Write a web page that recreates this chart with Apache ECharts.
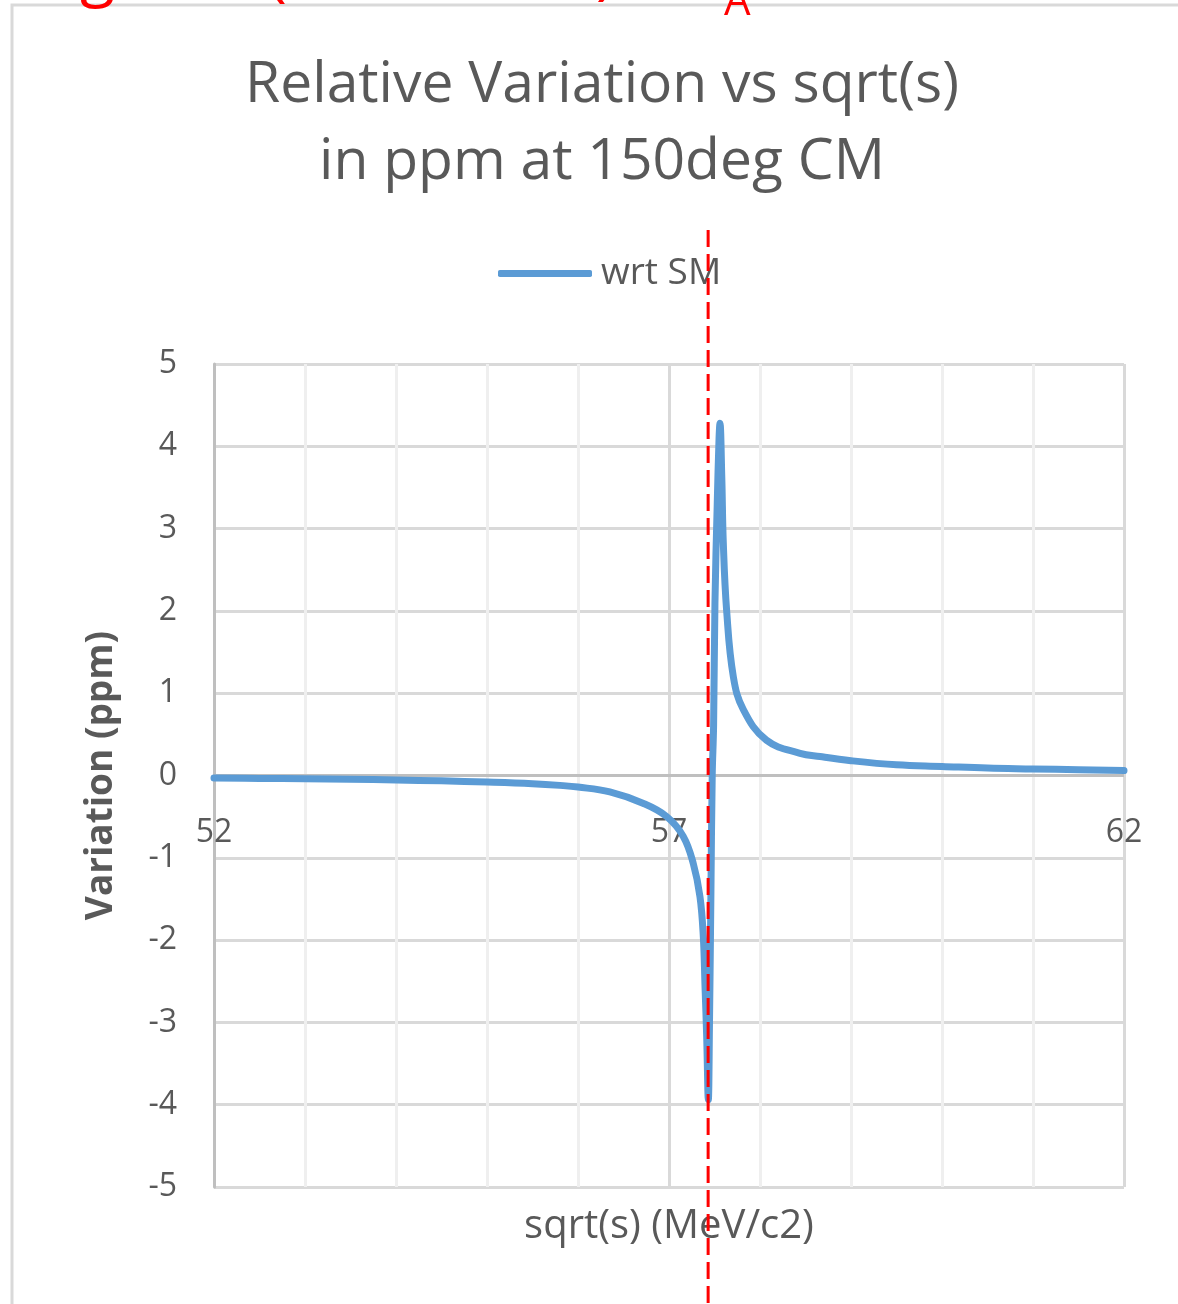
<!DOCTYPE html>
<html>
<head>
<meta charset="utf-8">
<script src="https://cdn.jsdelivr.net/npm/echarts@6/dist/echarts.min.js"></script>
<style>
html,body{margin:0;padding:0;background:#fff;}
#c{width:1178px;height:1304px;}
</style>
</head>
<body>
<div id="c"></div>
<script>
const titleText = 'Relative Variation vs sqrt(s)\nin ppm at 150deg CM';
const seriesName = 'wrt SM';
const xAxisName = 'sqrt(s) (MeV/c2)';
const yAxisName = 'Variation (ppm)';
const xLabeled = [52, 57, 62];
const sqrtS = [52, 52.5, 53, 53.5, 54, 54.5, 55, 55.5, 55.8, 56.0, 56.35, 56.72, 56.975, 57.157, 57.267, 57.34, 57.377, 57.396, 57.414, 57.432, 57.445, 57.46, 57.475, 57.49, 57.505, 57.53, 57.55, 57.56, 57.58, 57.597, 57.633, 57.707, 57.817, 58.07, 58.44, 58.66, 59, 59.5, 60, 60.5, 61, 61.5, 62];
const variation = [-0.03, -0.035, -0.04, -0.045, -0.055, -0.065, -0.08, -0.1, -0.12, -0.14, -0.2, -0.34, -0.5, -0.74, -1.07, -1.47, -1.96, -2.57, -3.17, -3.94, -3.0, -1.5, 0.0, 0.6, 2.1, 3.3, 4.1, 4.28, 3.63, 2.82, 2.01, 1.2, 0.8, 0.43, 0.27, 0.23, 0.18, 0.13, 0.11, 0.09, 0.08, 0.07, 0.06];
const zeroLineX = [52, 62];
const zeroLineY = [0, 0];
const markerX = 57.43;

const FONT = 'Open Sans';
const GREY = '#595959';

const chart = echarts.init(document.getElementById('c'));
const data = sqrtS.map((x, i) => [x, variation[i]]);
const zeroData = zeroLineX.map((x, i) => [x, zeroLineY[i]]);

chart.setOption({
  animation: false,
  backgroundColor: '#fff',
  title: {
    text: titleText,
    left: 597,
    textAlign: 'center',
    top: 42,
    textStyle: { fontFamily: FONT, fontSize: 57, fontWeight: 'normal', color: GREY, lineHeight: 77 }
  },
  legend: {
    left: 498,
    top: 255,
    padding: 0,
    icon: 'roundRect',
    itemWidth: 94,
    itemHeight: 7,
    textStyle: { fontFamily: FONT, fontSize: 37, color: GREY, padding: [0, 0, 0, 4] },
    data: [seriesName]
  },
  grid: { left: 214, right: 54, top: 364, bottom: 117, outerBoundsMode: 'none', containLabel: false },
  xAxis: {
    type: 'value',
    min: 52, max: 62, interval: 1,
    name: xAxisName,
    nameLocation: 'middle',
    nameGap: 20,
    nameTextStyle: { fontFamily: FONT, fontSize: 40, color: GREY },
    axisLine: { show: false, onZero: false },
    axisTick: { show: false },
    axisLabel: {
      margin: -370,
      fontFamily: FONT, fontSize: 32, color: GREY,
      formatter: v => xLabeled.indexOf(v) >= 0 ? String(v) : ''
    },
    splitLine: { show: true, lineStyle: { color: ['#d9d9d9', '#efefef', '#efefef', '#efefef', '#efefef'], width: 3 } }
  },
  yAxis: {
    type: 'value',
    min: -5, max: 5, interval: 1,
    name: yAxisName,
    nameLocation: 'middle',
    nameGap: 94,
    nameTextStyle: { fontFamily: FONT, fontSize: 37, color: GREY, fontWeight: 'bold' },
    axisLine: { show: true, lineStyle: { color: '#bfbfbf', width: 3 } },
    axisTick: { show: false },
    axisLabel: { margin: 37, fontFamily: FONT, fontSize: 32, color: GREY },
    splitLine: { show: true, lineStyle: { color: '#d9d9d9', width: 3 } }
  },
  series: [{
    name: 'zero',
    type: 'line',
    data: zeroData,
    showSymbol: false,
    silent: true,
    lineStyle: { color: '#bfbfbf', width: 3 },
    itemStyle: { color: '#bfbfbf' },
    z: 1
  }, {
    name: seriesName,
    type: 'line',
    data: data,
    showSymbol: false,
    smooth: 0.4,
    lineStyle: { color: '#5b9bd5', width: 7, cap: 'round', join: 'round' },
    itemStyle: { color: '#5b9bd5' },
    z: 3
  }]
});

const px = chart.convertToPixel({ gridIndex: 0 }, [markerX, 0])[0];
chart.setOption({
  graphic: [
    { type: 'rect', shape: { x: 12, y: 5, width: 1300, height: 1400 }, style: { fill: 'none', stroke: '#d9d9d9', lineWidth: 3 }, z: 0 },
    { type: 'line', shape: { x1: px, y1: 230, x2: px, y2: 1304 }, style: { stroke: '#ff0000', lineWidth: 3, lineDash: [17, 7] }, z: 100 },
    { type: 'text', x: 80, y: -24, style: { text: 'g', fontFamily: FONT, fontSize: 64, fill: '#ff0000', verticalAlign: 'middle' }, z: 100 },
    { type: 'text', x: 268, y: -24, style: { text: '(', fontFamily: FONT, fontSize: 64, fill: '#ff0000', verticalAlign: 'middle' }, z: 100 },
    { type: 'text', x: 596, y: -26, style: { text: ')', fontFamily: FONT, fontSize: 64, fill: '#ff0000', verticalAlign: 'middle' }, z: 100 },
    { type: 'text', x: 724, y: 3, style: { text: 'A', fontFamily: FONT, fontSize: 42, fill: '#ff0000', verticalAlign: 'middle' }, z: 100 }
  ]
});
</script>
</body>
</html>
